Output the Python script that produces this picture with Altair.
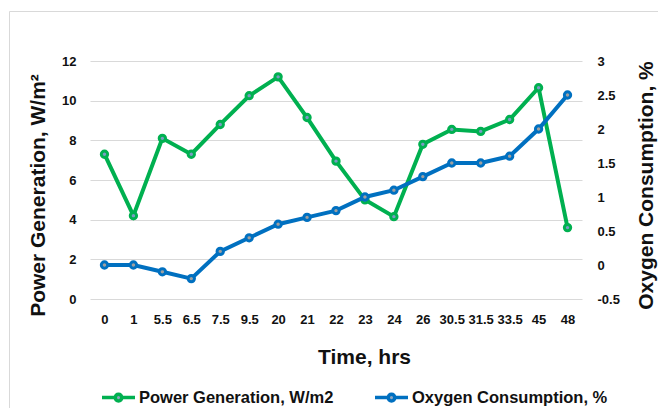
import altair as alt
import pandas as pd

times = ["0", "1", "5.5", "6.5", "7.5", "9.5", "20", "21", "22", "23", "24",
         "26", "30.5", "31.5", "33.5", "45", "48"]
power = [7.3, 4.2, 8.1, 7.3, 8.8, 10.25, 11.2, 9.15, 6.95, 5.0, 4.15,
         7.8, 8.55, 8.45, 9.05, 10.65, 3.6]
oxygen = [0, 0, -0.1, -0.2, 0.2, 0.4, 0.6, 0.7, 0.8, 1.0, 1.1,
          1.3, 1.5, 1.5, 1.6, 2.0, 2.5]

series_names = ["Power Generation, W/m2", "Oxygen Consumption, %"]
series_colors = ["#00B050", "#0070C0"]
left_ticks = [0, 2, 4, 6, 8, 10, 12]
right_ticks = [-0.5, 0, 0.5, 1, 1.5, 2, 2.5, 3]

df = pd.DataFrame({"t": times, "power": power, "oxygen": oxygen})

FONT = "Liberation Sans"
TXT = "#111111"

x_enc = alt.X(
    "t:N", sort=times,
    scale=alt.Scale(type="point", padding=0.5),
    axis=alt.Axis(
        title="Time, hrs", titleFontSize=21, titleFont=FONT, titleFontWeight="bold",
        titleColor=TXT, titleX=274, titleY=58, titleBaseline="middle",
        labelAngle=0, labelFontSize=13, labelFont=FONT, labelFontWeight="bold",
        labelColor=TXT, labelPadding=14, labelOverlap=False,
        ticks=False, tickSize=0, domain=False, grid=False,
    ),
)

y_left = alt.Y(
    "power:Q", scale=alt.Scale(domain=[0, 12]),
    axis=alt.Axis(
        orient="left", values=left_ticks, title="Power Generation, W/m²",
        titleFontSize=21, titleFont=FONT, titleFontWeight="bold", titleColor=TXT,
        titleX=-52, titleY=134, titleBaseline="middle", titleAngle=270,
        labelFontSize=13, labelFont=FONT, labelFontWeight="bold", labelColor=TXT,
        labelPadding=14, labelOverlap=False, ticks=False, tickSize=0, domain=False,
        grid=True, gridColor="#d9d9d9", gridWidth=1,
    ),
)
y_right = alt.Y(
    "oxygen:Q", scale=alt.Scale(domain=[-0.5, 3]),
    axis=alt.Axis(
        orient="right", values=right_ticks, title="Oxygen Consumption, %",
        labelExpr="'' + datum.value",
        titleFontSize=21, titleFont=FONT, titleFontWeight="bold", titleColor=TXT,
        titleX=64, titleY=124, titleBaseline="middle", titleAngle=270,
        labelFontSize=13, labelFont=FONT, labelFontWeight="bold", labelColor=TXT,
        labelPadding=15, labelOverlap=False, ticks=False, tickSize=0, domain=False,
        grid=False,
    ),
)

stroke_scale = alt.Scale(domain=series_names, range=series_colors)
legend = alt.Legend(
    title=None, orient="none", legendX=10, legendY=318, direction="horizontal",
    symbolType="M-1,0L-0.2,0M0.2,0L1,0M-0.2,0A0.2,0.2,0,1,1,0.2,0A0.2,0.2,0,1,1,-0.2,0Z",
    symbolSize=1089, symbolStrokeWidth=3.5, symbolFillColor="#8ea4be",
    labelFont=FONT, labelFontSize=16.5, labelFontWeight="bold", labelColor=TXT,
    labelOffset=2, columnPadding=34, labelLimit=400,
)
stroke_enc = alt.Stroke("series:N", scale=stroke_scale, legend=legend)

green_line = alt.Chart(df).transform_calculate(
    series="'" + series_names[0] + "'"
).mark_line(strokeWidth=4).encode(x=x_enc, y=y_left, stroke=stroke_enc)
green_pts = alt.Chart(df).mark_point(
    filled=True, fill="#7b9bc4", stroke=series_colors[0], strokeWidth=3,
    size=40, opacity=1, shape="circle",
).encode(x=x_enc, y=y_left)

blue_line = alt.Chart(df).transform_calculate(
    series="'" + series_names[1] + "'"
).mark_line(strokeWidth=4).encode(x=x_enc, y=y_right, stroke=stroke_enc)
blue_pts = alt.Chart(df).mark_point(
    filled=True, fill="#a0a0a0", stroke=series_colors[1], strokeWidth=3,
    size=40, opacity=1, shape="circle",
).encode(x=x_enc, y=y_right)

frame = alt.Chart(alt.Data(values=[{"a": 1}])).mark_rect(
    fill=None, stroke="#d9d9d9", strokeWidth=1
).encode(x=alt.value(-80.5), x2=alt.value(700), y=alt.value(-49.5), y2=alt.value(500))

green = alt.layer(green_line, green_pts)
blue = alt.layer(blue_line, blue_pts)

chart = alt.layer(frame, green, blue).resolve_scale(y="independent").properties(
    width=492, height=238, autosize="none",
    padding={"left": 82, "top": 53, "right": 76, "bottom": 109},
    background="white",
).configure_view(stroke=None)

chart.save("out.html", embed_options={"renderer": "svg", "actions": False})
